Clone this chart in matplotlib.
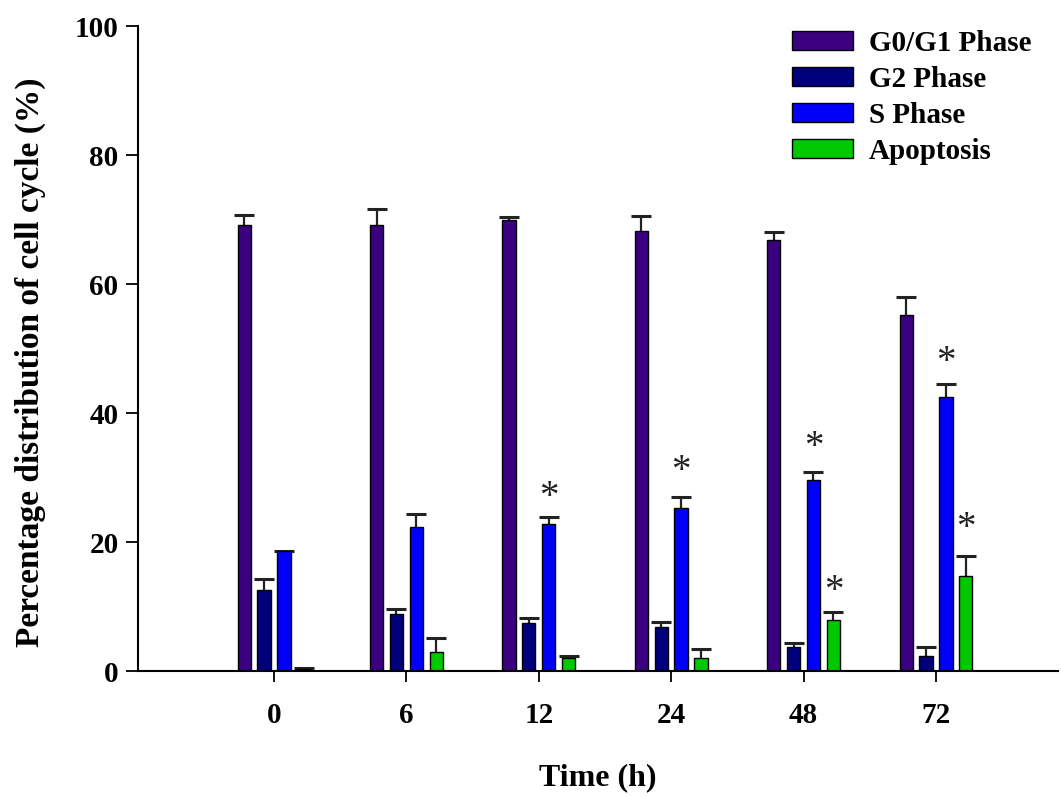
import matplotlib
matplotlib.use("Agg")
import matplotlib.pyplot as plt
import numpy as np

categories = ["0", "6", "12", "24", "48", "72"]
series_names = ["G0/G1 Phase", "G2 Phase", "S Phase", "Apoptosis"]
g0g1 = [69.2, 69.2, 70.0, 68.2, 66.9, 55.3]
g0g1_err = [1.6, 2.5, 0.5, 2.4, 1.2, 2.7]
g2 = [12.6, 8.8, 7.4, 6.8, 3.7, 2.3]
g2_err = [1.7, 0.8, 0.8, 0.8, 0.6, 1.4]
s_phase = [18.6, 22.3, 22.8, 25.3, 29.6, 42.5]
s_err = [0.1, 2.0, 1.1, 1.7, 1.3, 2.0]
apop = [0.3, 2.9, 2.0, 2.0, 7.9, 14.7]
apop_err = [0.1, 2.2, 0.4, 1.4, 1.2, 3.1]
# significance markers: (category index, series index, y position)
stars = [(2, 2, 28.2), (3, 2, 32.2), (4, 2, 35.9), (4, 3, 13.6), (5, 2, 49.1), (5, 3, 23.4)]

colors = ["#3b0080", "#00007c", "#0000fa", "#00c800"]
values = [g0g1, g2, s_phase, apop]
errors = [g0g1_err, g2_err, s_err, apop_err]

plt.rcParams['font.family'] = ['Liberation Serif', 'DejaVu Serif']
plt.rcParams['font.weight'] = 'bold'

fig = plt.figure(figsize=(10.62, 7.97), dpi=100)
ax = fig.add_axes([0.130, 0.158, 0.866, 0.809])

x = np.arange(len(categories))
width = 0.1
offsets = [-0.225, -0.075, 0.075, 0.225]
for i in range(4):
    ax.bar(x + offsets[i], values[i], width, color=colors[i], edgecolor='black',
           linewidth=1.0, label=series_names[i], zorder=2)
    eb = ax.errorbar(x + offsets[i], values[i],
                     yerr=[np.zeros(len(categories)), errors[i]],
                     fmt='none', ecolor='#222222', elinewidth=1.6, capsize=7,
                     capthick=2.2, zorder=1)
    caps = eb[1]
    if len(caps) == 2:
        caps[0].set_visible(False)

for ci, si, yv in stars:
    ax.annotate("*", xy=(x[ci] + offsets[si], yv), xytext=(0, -6),
                textcoords='offset points', ha='center', va='center',
                fontsize=28, fontweight='normal', color='#222222')

ax.set_xlim(-1.027, 5.92)
ax.set_ylim(0, 100)
ax.set_yticks([0, 20, 40, 60, 80, 100])
ax.set_xticks(x)
ax.set_xticklabels(categories)
ax.spines['top'].set_visible(False)
ax.spines['right'].set_visible(False)
ax.spines['left'].set_linewidth(1.5)
ax.spines['bottom'].set_linewidth(1.5)
ax.tick_params(axis='y', direction='out', length=9, width=1.3, labelsize=21, pad=5)
ax.tick_params(axis='x', direction='out', length=8, width=1.3, labelsize=21, pad=14)
for lab in ax.get_xticklabels() + ax.get_yticklabels():
    lab.set_fontweight('bold')

ax.set_xlabel("Time (h)", fontsize=23, fontweight='bold', labelpad=25)
ax.set_ylabel("Percentage distribution of cell cycle (%)", fontsize=24, fontweight='bold')
ax.yaxis.set_label_coords(-0.100, 0.479)

leg = ax.legend(loc='upper left', bbox_to_anchor=(0.7105, 0.995), frameon=False,
                prop={'size': 21, 'weight': 'bold'}, handlelength=2.1, handleheight=0.6,
                labelspacing=0.31, handletextpad=0.55, borderpad=0, borderaxespad=0)

fig.savefig("out.png", dpi=100)
